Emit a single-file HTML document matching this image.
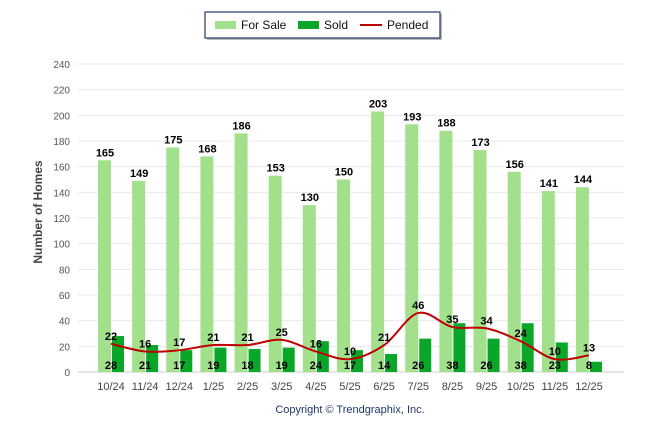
<!DOCTYPE html>
<html><head><meta charset="utf-8"><style>
body{margin:0;background:#fff;font-family:"Liberation Sans",sans-serif}
svg text{font-family:"Liberation Sans",sans-serif}
</style></head><body>
<svg id="c" width="646" height="434" viewBox="0 0 646 434" xmlns="http://www.w3.org/2000/svg">
<g>
<rect x="207" y="14" width="235" height="26" fill="#bbb"/>
<rect x="205" y="12" width="235" height="26" fill="#fff" stroke="#1f3864" stroke-width="1.2"/>
<rect x="215" y="21" width="21" height="8" fill="#a3e08b"/>
<text x="241" y="29" font-size="12" fill="#111">For Sale</text>
<rect x="298" y="21" width="21" height="8" fill="#0aa628"/>
<text x="324" y="29" font-size="12" fill="#111">Sold</text>
<line x1="360" y1="25" x2="382" y2="25" stroke="#c00000" stroke-width="2"/>
<text x="387" y="29" font-size="12" fill="#111">Pended</text>
</g>
<text transform="translate(42,212) rotate(-90)" text-anchor="middle" font-size="12" font-weight="bold" fill="#444">Number of Homes</text>
<text x="350" y="413" text-anchor="middle" font-size="11" fill="#1f3864">Copyright © Trendgraphix, Inc.</text>
<g id="grid"></g><g id="bars"></g><g id="line"></g><g id="labels"></g>
</svg>
<script>
const categories=["10/24","11/24","12/24","1/25","2/25","3/25","4/25","5/25","6/25","7/25","8/25","9/25","10/25","11/25","12/25"];
const forSale=[165,149,175,168,186,153,130,150,203,193,188,173,156,141,144];
const sold=[28,21,17,19,18,19,24,17,14,26,38,26,38,23,8];
const pended=[22,16,17,21,21,25,16,10,21,46,35,34,24,10,13];
const yTicks=[0,20,40,60,80,100,120,140,160,180,200,220,240];
const NS="http://www.w3.org/2000/svg";
const y0=372,y1=64,vmax=240;
const y=v=>y0-(v/vmax)*(y0-y1);
const x=i=>111+i*34.14;
function mk(t,a,p){const e=document.createElementNS(NS,t);for(const k in a)e.setAttribute(k,a[k]);p.appendChild(e);return e;}
const g=document.getElementById('grid'),b=document.getElementById('bars'),l=document.getElementById('line'),lb=document.getElementById('labels');
yTicks.forEach(v=>{
 const ln=mk('line',{x1:78,x2:624,y1:y(v),y2:y(v),stroke:v==0?'#ccc':'#e8e8e8','stroke-width':1},g);
 
 
 const t=mk('text',{x:70,y:y(v)+4,'text-anchor':'end','font-size':10,fill:'#555'},g);t.textContent=v;
 
 
});
categories.forEach((c,i)=>{
 const t=mk('text',{x:x(i),y:390,'text-anchor':'middle','font-size':11,fill:'#444'},g);t.textContent=c;
 
 
 const r1=mk('rect',{x:x(i)-13,y:y(forSale[i]),width:13,height:y0-y(forSale[i]),fill:'#a3e08b'},b);
 
 
 const r2=mk('rect',{x:x(i)+1,y:y(sold[i]),width:12,height:y0-y(sold[i]),fill:'#0aa628'},b);
 
 
 const t1=mk('text',{x:x(i)-6,y:y(forSale[i])-4,'text-anchor':'middle','font-size':11,'font-weight':'bold',fill:'#000'},lb);t1.textContent=forSale[i];
 
 
 const t2=mk('text',{x:x(i),y:369,'text-anchor':'middle','font-size':11,'font-weight':'bold',fill:'#000'},lb);t2.textContent=sold[i];
 
 
 const t3=mk('text',{x:x(i),y:y(pended[i])-4,'text-anchor':'middle','font-size':11,'font-weight':'bold',fill:'#000'},lb);t3.textContent=pended[i];
 
 
});
const pts=pended.map((v,i)=>[x(i),y(v)]);
let d='M'+pts[0][0]+','+pts[0][1];
for(let i=0;i<pts.length-1;i++){
 const p0=pts[Math.max(0,i-1)],p1=pts[i],p2=pts[i+1],p3=pts[Math.min(pts.length-1,i+2)];
 const c1=[p1[0]+(p2[0]-p0[0])/6,p1[1]+(p2[1]-p0[1])/6],c2=[p2[0]-(p3[0]-p1[0])/6,p2[1]-(p3[1]-p1[1])/6];
 d+=` C${c1[0]},${c1[1]} ${c2[0]},${c2[1]} ${p2[0]},${p2[1]}`;
}
const pl=mk('path',{d:d,fill:'none',stroke:'#c00000','stroke-width':2},l);


</script>
</body></html>
